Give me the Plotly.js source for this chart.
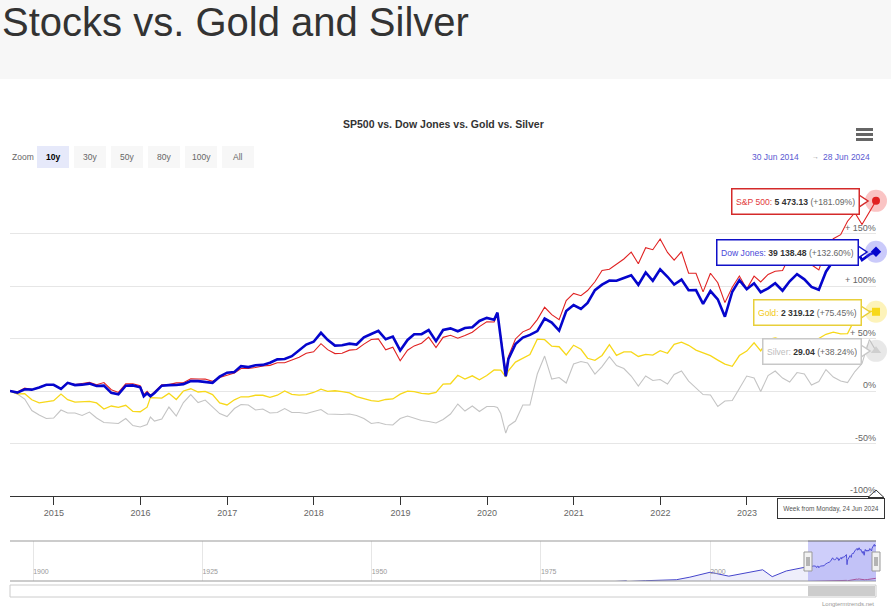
<!DOCTYPE html>
<html>
<head>
<meta charset="utf-8">
<script src="https://cdn.plot.ly/plotly-3.0.1.min.js"></script>
<style>
  html, body { margin: 0; padding: 0; background: #fff; }
  #wrap { position: relative; width: 891px; height: 613px; }
  #chart { position: absolute; left: 0; top: 0; width: 891px; height: 613px; }
  h1 { position: absolute; left: 2px; top: 0; margin: 0; z-index: 2; padding: 0;
       font: normal 40px/45px 'Liberation Sans', Arial, Helvetica, sans-serif; color: #333; }
</style>
</head>
<body>
<div id="wrap">
<div id="chart"></div>
<h1>Stocks vs. Gold and Silver</h1>
</div>
<script>
// weekly/monthly closes (first value = base of the % scale)
var dates = [
  '2014-06-30',
  '2014-07-31','2014-08-31','2014-09-30','2014-10-31','2014-11-30','2014-12-31',
  '2015-01-31','2015-02-28','2015-03-31','2015-04-30','2015-05-31','2015-06-30',
  '2015-07-31','2015-08-31','2015-09-30','2015-10-31','2015-11-30','2015-12-31',
  '2016-01-15','2016-01-29','2016-02-12','2016-02-29','2016-03-31','2016-04-30','2016-05-31',
  '2016-06-30','2016-07-31','2016-08-31','2016-09-30','2016-10-31','2016-11-30','2016-12-31',
  '2017-01-31','2017-02-28','2017-03-31','2017-04-30','2017-05-31','2017-06-30',
  '2017-07-31','2017-08-31','2017-09-30','2017-10-31','2017-11-30','2017-12-31',
  '2018-01-31','2018-02-28','2018-03-31','2018-04-30','2018-05-31','2018-06-30',
  '2018-07-31','2018-08-31','2018-09-30','2018-10-31','2018-11-30','2018-12-31',
  '2019-01-31','2019-02-28','2019-03-31','2019-04-30','2019-05-31','2019-06-30',
  '2019-07-31','2019-08-31','2019-09-30','2019-10-31','2019-11-30','2019-12-31',
  '2020-01-31','2020-02-14','2020-02-28','2020-03-20','2020-03-31','2020-04-30','2020-05-31',
  '2020-06-30','2020-07-31','2020-08-31','2020-09-30','2020-10-31','2020-11-30','2020-12-31',
  '2021-01-31','2021-02-28','2021-03-31','2021-04-30','2021-05-31','2021-06-30',
  '2021-07-31','2021-08-31','2021-09-30','2021-10-31','2021-11-30','2021-12-31',
  '2022-01-31','2022-02-28','2022-03-31','2022-04-30','2022-05-31','2022-06-30',
  '2022-07-31','2022-08-31','2022-09-30','2022-10-31','2022-11-30','2022-12-31',
  '2023-01-31','2023-02-28','2023-03-31','2023-04-30','2023-05-31','2023-06-30',
  '2023-07-31','2023-08-31','2023-09-30','2023-10-31','2023-11-30','2023-12-31',
  '2024-01-31','2024-02-29','2024-03-31','2024-04-30','2024-05-31','2024-06-28'
];

var sp500 = [
  1947.1,
  1931, 2003, 1972, 2018, 2068, 2059,
  1995, 2105, 2068, 2086, 2107, 2063, 2104, 1972, 1920, 2079, 2080, 2044,
  1880, 1940, 1865, 1932, 2060, 2065, 2097, 2099, 2174, 2171, 2168, 2126, 2199, 2239,
  2279, 2364, 2363, 2384, 2412, 2423, 2470, 2472, 2519, 2575, 2648, 2674,
  2824, 2714, 2641, 2648, 2705, 2718, 2816, 2902, 2914, 2712, 2760, 2507,
  2704, 2784, 2834, 2946, 2752, 2942, 2980, 2926, 2977, 3038, 3141, 3231,
  3226, 3380, 2954, 2305, 2585, 2912, 3044, 3100, 3271, 3500, 3363, 3270, 3622, 3756,
  3714, 3811, 3973, 4181, 4204, 4298, 4395, 4523, 4308, 4605, 4567, 4766,
  4516, 4374, 4530, 4132, 4132, 3785, 4130, 3955, 3586, 3872, 4080, 3840,
  4077, 3970, 4109, 4169, 4180, 4450, 4589, 4508, 4288, 4194, 4568, 4770,
  4846, 5096, 5254, 5036, 5278, 5473.13
];

var dow = [
  16826.5,
  16563, 17098, 17043, 17391, 17828, 17823,
  17165, 18133, 17776, 17841, 18011, 17620, 17690, 16528, 16285, 17664, 17720, 17425,
  15988, 16466, 15974, 16517, 17685, 17774, 17787, 17930, 18432, 18401, 18308, 18142, 19124, 19763,
  19864, 20812, 20663, 20941, 21009, 21350, 21891, 21948, 22405, 23377, 24272, 24719,
  26149, 25029, 24103, 24163, 24416, 24271, 25415, 25965, 26458, 25116, 25538, 23327,
  24999, 25916, 25929, 26593, 24815, 26600, 26864, 26403, 26917, 27046, 28051, 28538,
  28256, 29398, 25409, 19174, 21917, 24346, 25383, 25813, 26428, 28430, 27782, 26502, 29638, 30606,
  29983, 30932, 32982, 33875, 34529, 34503, 34935, 35361, 33844, 35820, 34484, 36338,
  35132, 33893, 34678, 32977, 32990, 30775, 32845, 31510, 28726, 32733, 34590, 33147,
  34086, 32657, 33274, 34098, 32908, 34408, 35560, 34722, 33508, 33053, 35951, 37690,
  38150, 38996, 39807, 37816, 38686, 39138.48
];

var gold = [
  1321.8,
  1285, 1287, 1211, 1172, 1183, 1199,
  1284, 1213, 1183, 1184, 1190, 1172, 1095, 1133, 1115, 1142, 1065, 1061,
  1088, 1118, 1239, 1238, 1233, 1292, 1215, 1322, 1350, 1309, 1316, 1277, 1173, 1146,
  1211, 1249, 1249, 1268, 1268, 1242, 1269, 1322, 1280, 1271, 1275, 1303,
  1345, 1318, 1325, 1315, 1298, 1252, 1224, 1200, 1192, 1215, 1222, 1282,
  1321, 1313, 1292, 1284, 1305, 1409, 1413, 1520, 1472, 1513, 1464, 1517,
  1587, 1584, 1585, 1499, 1577, 1686, 1730, 1781, 1975, 1968, 1886, 1879, 1776, 1898,
  1847, 1734, 1708, 1769, 1906, 1770, 1814, 1814, 1757, 1783, 1774, 1829,
  1797, 1909, 1937, 1897, 1837, 1807, 1766, 1711, 1660, 1633, 1768, 1824,
  1928, 1827, 1969, 1990, 1963, 1919, 1965, 1940, 1849, 1983, 2036, 2063,
  2040, 2044, 2230, 2286, 2327, 2319.12
];

var silver = [
  21.007,
  20.4, 19.4, 17.1, 16.2, 15.5, 15.6,
  17.2, 16.6, 16.6, 16.1, 16.8, 15.6, 14.7, 14.6, 14.5, 15.5, 14.1, 13.8,
  14.0, 14.3, 15.8, 15.0, 15.4, 17.8, 16.0, 18.7, 20.3, 18.7, 19.2, 17.8, 16.5, 15.9,
  17.5, 18.3, 18.2, 17.2, 17.4, 16.6, 16.7, 17.5, 16.7, 16.7, 16.5, 16.9,
  17.3, 16.4, 16.3, 16.3, 16.4, 16.1, 15.5, 14.5, 14.7, 14.3, 14.2, 15.5,
  16.0, 15.6, 15.1, 14.9, 14.6, 15.3, 16.4, 18.4, 17.0, 18.0, 16.9, 17.9,
  17.9, 17.7, 16.5, 12.6, 14.0, 15.0, 18.2, 18.2, 24.4, 28.0, 23.4, 23.7, 22.6, 26.4,
  26.9, 26.6, 24.4, 25.9, 27.9, 26.1, 25.5, 24.0, 22.0, 24.0, 23.1, 23.3,
  22.4, 24.3, 25.0, 23.0, 21.7, 20.3, 20.2, 17.9, 19.0, 19.1, 21.5, 24.0,
  23.6, 20.9, 24.1, 25.0, 23.6, 22.8, 24.7, 24.4, 22.2, 22.9, 25.3, 23.8,
  23.0, 22.7, 24.9, 26.5, 31.3, 29.04
];

// long history shown in the navigator (before the 10y window)
var navDates = ['1896-08-01','1929-09-01','1932-07-01','1950-01-01','1966-01-01','1974-12-01',
  '1982-08-01','1987-08-01','1987-10-30','1990-06-01','1995-01-01','1997-01-01','1999-12-31',
  '2002-10-01','2007-10-01','2009-03-01','2011-04-01','2013-12-31'];
var navDow = [40, 380, 42, 200, 990, 600, 800, 2700, 1990, 2900, 3900, 6500, 11500,
  7500, 14000, 7000, 12800, 16577];
var navSp = [5, 30, 5, 17, 92, 69, 110, 330, 250, 360, 460, 740, 1470,
  800, 1550, 700, 1360, 1848];

var tickYears = ['2015','2016','2017','2018','2019','2020','2021','2022','2023'];
var navYears = ['1900','1925','1950','1975','2000'];
var yTicks = [-100, -50, 0, 50, 100, 150, 200];
var yTickText = ['-100%', '-50%', '0%', '+ 50%', '+ 100%', '+ 150%', ''];

var W = 891, H = 613;
function px(x) { return x / W; }
function py(y) { return 1 - y / H; }
function pct(arr) {
  return arr.map(function (v) { return (v / arr[0] - 1) * 100; });
}
function fmt(v) {
  var s = v.toFixed(2).split('.');
  return s[0].replace(/\B(?=(\d{3})+(?!\d))/g, ' ') + '.' + s[1];
}
function last(arr) { return arr[arr.length - 1]; }

var FONT = 'Liberation Sans, Arial, Helvetica, sans-serif';
var series = [
  { name: 'Silver', vals: silver, color: '#c4c4c4', width: 1.1, sym: 'triangle-up', halo: 'rgba(190,190,190,0.35)', label: '#bdbdbd', msize: 9, border: '#c8c8c8' },
  { name: 'Gold', vals: gold, color: '#f7d81a', width: 1.3, sym: 'square', halo: 'rgba(247,216,26,0.3)', label: '#f2c80f', msize: 8, border: '#e8cf3a' },
  { name: 'S&amp;P 500', vals: sp500, color: '#e02222', width: 1.1, sym: 'circle', halo: 'rgba(240,60,60,0.3)', label: '#e23a3a', msize: 8, border: '#d42a2a' },
  { name: 'Dow Jones', vals: dow, color: '#0505cc', width: 2.6, sym: 'diamond', halo: 'rgba(80,80,240,0.3)', label: '#4a4ad8', msize: 8, border: '#1010c8' }
];

var data = [];
series.forEach(function (s) {
  var p = pct(s.vals);
  data.push({
    type: 'scatter', mode: 'lines', x: dates, y: p,
    line: { color: s.color, width: s.width }, hoverinfo: 'skip'
  });
  s.lastPct = last(p);
});
series.forEach(function (s) {
  data.push({
    type: 'scatter', mode: 'markers', x: [last(dates)], y: [s.lastPct], cliponaxis: false,
    marker: { size: 22, color: s.halo, line: { width: 0 } }, hoverinfo: 'skip'
  });
  data.push({
    type: 'scatter', mode: 'markers', x: [last(dates)], y: [s.lastPct], cliponaxis: false,
    marker: { size: s.msize, symbol: s.sym, color: s.name === 'Silver' ? '#cfcfcf' : s.color,
      line: { width: 0 } }, hoverinfo: 'skip'
  });
});

// navigator
data.push({
  type: 'scatter', mode: 'lines', x: navDates.concat(dates.slice(1)), y: navSp.concat(sp500.slice(1)),
  xaxis: 'x2', yaxis: 'y2', line: { color: '#d04a6a', width: 1 }, hoverinfo: 'skip'
});
data.push({
  type: 'scatter', mode: 'lines', x: navDates.concat(dates.slice(1)), y: navDow.concat(dow.slice(1)),
  xaxis: 'x2', yaxis: 'y2', fill: 'tozeroy', fillcolor: 'rgba(90,90,220,0.10)',
  line: { color: '#4545cc', width: 1 }, hoverinfo: 'skip'
});

var shapes = [];
function rect(x0, y0, x1, y1, fill, line, lw, layer) {
  shapes.push({ type: 'rect', xref: 'paper', yref: 'paper', x0: px(x0), x1: px(x1), y0: py(y1), y1: py(y0),
    fillcolor: fill, line: { color: line || fill, width: lw === undefined ? 0 : lw }, layer: layer || 'above' });
}
function line(x0, y0, x1, y1, color, w) {
  shapes.push({ type: 'line', xref: 'paper', yref: 'paper', x0: px(x0), x1: px(x1), y0: py(y0), y1: py(y1),
    line: { color: color, width: w } });
}
function path(pts, fill, color, w) {
  var d = pts.map(function (p, i) { return (i ? 'L' : 'M') + px(p[0]) + ',' + py(p[1]); }).join(' ') + ' Z';
  shapes.push({ type: 'path', xref: 'paper', yref: 'paper', path: d, fillcolor: fill, line: { color: color, width: w } });
}

// page header band
rect(0, 0, 891, 79, '#f7f7f7', null, 0, 'below');

// range selector buttons
var btnLabels = ['10y', '30y', '50y', '80y', '100y', 'All'];
var annotations = [];
btnLabels.forEach(function (b, i) {
  var x0 = 37 + i * 37;
  rect(x0, 146, x0 + 32, 168, i === 0 ? '#e6e9fa' : '#f7f7f7', null, 0);
  annotations.push({ xref: 'paper', yref: 'paper', x: px(x0 + 16), y: py(157), text: i === 0 ? '<b>' + b + '</b>' : b,
    showarrow: false, xanchor: 'center', yanchor: 'middle',
    font: { family: FONT, size: 8.5, color: i === 0 ? '#000' : '#666' } });
});

// hamburger menu
[129.5, 134.5, 139.5].forEach(function (y) { line(856, y, 873, y, '#666', 3); });

// navigator frame, selection and scrollbar
line(10, 541, 876, 541, '#999', 1);
line(10, 581, 876, 581, '#999', 1);
rect(808, 541, 876, 581, 'rgba(102,102,240,0.32)', null, 0);
line(808, 541, 876, 541, '#888', 1);
[808, 876].forEach(function (x) {
  rect(x - 4, 552, x + 4, 571, '#f2f2f2', '#999', 1);
  line(x - 1, 557, x - 1, 566, '#777', 1);
  line(x + 1, 557, x + 1, 566, '#777', 1);
});
rect(10, 585, 876, 597, '#ffffff', '#cccccc', 1);
rect(808, 586, 875, 596, '#cccccc', null, 0);

// y-axis labels sit just above their grid lines, right-aligned at the plot edge
yTicks.forEach(function (v, i) {
  if (!yTickText[i]) return;
  annotations.push({ xref: 'paper', yref: 'y', x: px(878), y: v, yshift: 6, xanchor: 'right', yanchor: 'middle',
    showarrow: false, text: yTickText[i], font: { family: FONT, size: 9, color: '#666' } });
});

// tooltips (split per series)
var tips = [
  { s: series[2], x1: 860, yc: 201 },
  { s: series[3], x1: 859, yc: 252 },
  { s: series[1], x1: 862, yc: 312 },
  { s: series[0], x1: 862, yc: 351 }
];
tips.forEach(function (t) {
  var s = t.s;
  annotations.push({
    xref: 'paper', yref: 'paper', x: px(t.x1), y: py(t.yc), xanchor: 'right', yanchor: 'middle',
    showarrow: false, height: 17, borderpad: 3.5,
    bgcolor: '#fff', bordercolor: s.border, borderwidth: 1.5,
    font: { family: FONT, size: 8.6, color: '#333' },
    text: '<span style="color:' + s.label + '">' + s.name + ':</span> <b>' + fmt(last(s.vals)) +
      '</b> <span style="color:#666">(+' + s.lastPct.toFixed(2) + '%)</span>'
  });
  path([[t.x1 - 1, t.yc - 6], [t.x1 + 8, t.yc], [t.x1 - 1, t.yc + 6]], '#fff', s.border, 1.5);
});

// x-axis header tooltip
annotations.push({
  xref: 'paper', yref: 'paper', x: px(831), y: py(508), xanchor: 'center', yanchor: 'middle',
  showarrow: false, width: 104, height: 17, borderpad: 1, bgcolor: '#fff', bordercolor: '#333', borderwidth: 1,
  font: { family: FONT, size: 6.5, color: '#555' }, text: 'Week from Monday, 24 Jun 2024'
});
path([[868, 497.5], [876, 490], [884, 497.5]], '#fff', '#333', 1);

// texts
annotations.push(
  { xref: 'paper', yref: 'paper', x: px(443), y: py(124), xanchor: 'center', yanchor: 'middle', showarrow: false,
    text: '<b>SP500 vs. Dow Jones vs. Gold vs. Silver</b>', font: { family: FONT, size: 10.5, color: '#333' } },
  { xref: 'paper', yref: 'paper', x: px(10), y: py(157), xanchor: 'left', yanchor: 'middle', showarrow: false,
    text: 'Zoom', font: { family: FONT, size: 8.5, color: '#666' } },
  { xref: 'paper', yref: 'paper', x: px(801), y: py(157), xanchor: 'right', yanchor: 'middle', showarrow: false,
    text: '30 Jun 2014', font: { family: FONT, size: 8.5, color: '#5a5ad2' } },
  { xref: 'paper', yref: 'paper', x: px(815), y: py(157), xanchor: 'center', yanchor: 'middle', showarrow: false,
    text: '→', font: { family: FONT, size: 7, color: '#999' } },
  { xref: 'paper', yref: 'paper', x: px(872), y: py(157), xanchor: 'right', yanchor: 'middle', showarrow: false,
    text: '28 Jun 2024', font: { family: FONT, size: 8.5, color: '#5a5ad2' } },
  { xref: 'paper', yref: 'paper', x: px(876), y: py(604), xanchor: 'right', yanchor: 'middle', showarrow: false,
    text: 'Longtermtrends.net', font: { family: FONT, size: 6, color: '#999' } }
);

var layout = {
  width: W, height: H,
  margin: { l: 0, r: 0, t: 0, b: 0 },
  paper_bgcolor: 'rgba(0,0,0,0)', plot_bgcolor: 'rgba(0,0,0,0)',
  showlegend: false, hovermode: false,
  font: { family: FONT },
  xaxis: {
    type: 'date', domain: [px(10), px(876)], range: ['2014-06-30', '2024-06-28'], anchor: 'y',
    tickvals: tickYears.map(function (y) { return y + '-01-01'; }), ticktext: tickYears,
    ticks: 'outside', ticklen: 8, tickcolor: '#333', tickwidth: 1,
    showline: true, linecolor: '#333', linewidth: 1, showgrid: false, zeroline: false,
    tickfont: { family: FONT, size: 9, color: '#666' }, fixedrange: true
  },
  yaxis: {
    domain: [py(496), py(181)], range: [-100, 200], side: 'right', anchor: 'x',
    tickvals: yTicks, showticklabels: false,
    ticks: '', showgrid: true, gridcolor: '#e6e6e6', zeroline: false, showline: false, fixedrange: true
  },
  xaxis2: {
    type: 'date', domain: [px(10), px(876)], range: ['1896-08-01', '2024-06-28'], anchor: 'y2',
    tickvals: navYears.map(function (y) { return y + '-01-01'; }), ticktext: navYears,
    ticklabelposition: 'inside right', ticks: '', showgrid: true, gridcolor: '#e6e6e6',
    showline: false, zeroline: false, tickfont: { family: FONT, size: 7, color: '#999' }, fixedrange: true
  },
  yaxis2: {
    domain: [py(581), py(541)], range: [2600, 43200], anchor: 'x2',
    showticklabels: false, showgrid: false, zeroline: false, ticks: '', fixedrange: true
  },
  shapes: shapes,
  annotations: annotations
};

Plotly.newPlot('chart', data, layout, { displayModeBar: false, staticPlot: true });
</script>
</body>
</html>
